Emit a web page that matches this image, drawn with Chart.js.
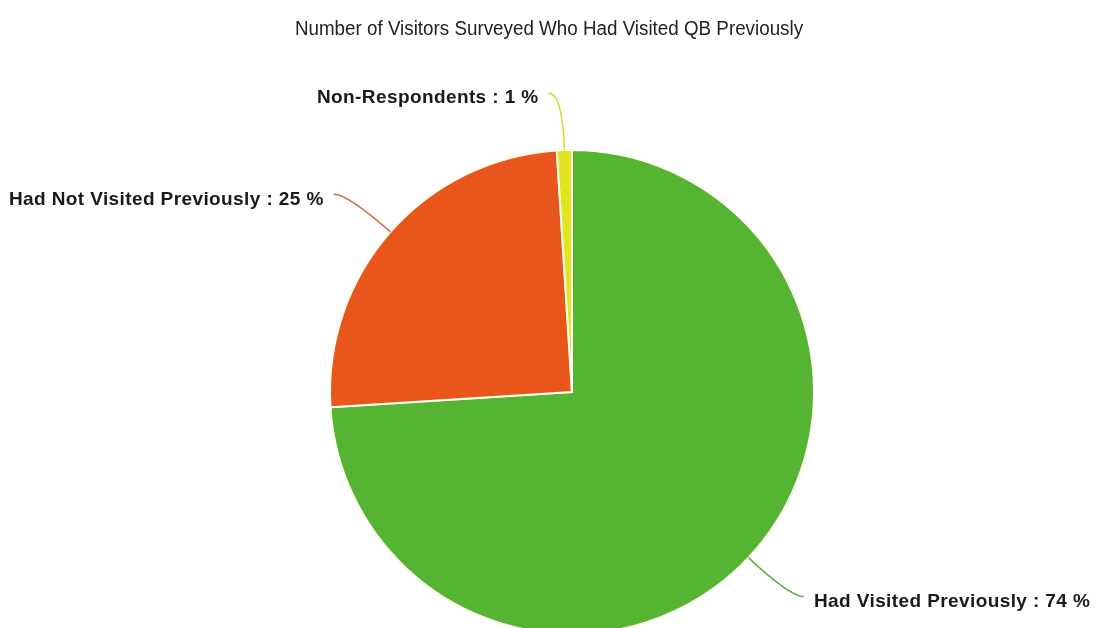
<!DOCTYPE html>
<html>
<head>
<meta charset="utf-8">
<script src="https://cdn.jsdelivr.net/npm/chart.js@4.4.1/dist/chart.umd.min.js"></script>
<style>
  html, body { margin: 0; padding: 0; background: #fff; overflow: hidden; }
  #wrap { width: 1098px; height: 628px; position: relative; }
</style>
</head>
<body>
<div id="wrap"><canvas id="chartPie"></canvas></div>
<script>
const chartTitle = "Number of Visitors Surveyed Who Had Visited QB Previously";
const sliceLabels = ["Had Visited Previously", "Had Not Visited Previously", "Non-Respondents"];
const sliceValues = [74, 25, 1];
const sliceColors = ["#55b432", "#e9561b", "#e2e41e"];
const leaderColors = ["#5fae45", "#d8643a", "#d6d92a"];

// title centred on the whole canvas (the pie itself sits right of centre), slightly condensed
const centerTitle = {
    id: 'centerTitle',
    afterDraw(chart) {
        const ctx = chart.ctx;
        ctx.save();
        ctx.font = '20px "Liberation Sans", Arial, sans-serif';
        ctx.fillStyle = '#222';
        ctx.textAlign = 'center';
        ctx.textBaseline = 'middle';
        ctx.translate(chart.width / 2, 29);
        ctx.scale(0.94, 1);
        ctx.fillText(chartTitle, 0, 0);
        ctx.restore();
    }
};

// curved leader line from each slice edge out to its "label : value %" text
const leaderLabels = {
    id: 'leaderLabels',
    afterDatasetsDraw(chart) {
        const ctx = chart.ctx;
        const meta = chart.getDatasetMeta(0);
        const values = chart.data.datasets[0].data;
        meta.data.forEach((arc, i) => {
            const mid = (arc.startAngle + arc.endAngle) / 2;
            const cos = Math.cos(mid), sin = Math.sin(mid);
            const r = arc.outerRadius;
            const x0 = arc.x + cos * r, y0 = arc.y + sin * r;
            const ex = arc.x + cos * (r + 57), ey = arc.y + sin * (r + 57);
            const side = cos >= 0 ? 1 : -1;
            const x1 = ex + side * 14;

            ctx.save();
            ctx.strokeStyle = leaderColors[i];
            ctx.lineWidth = 1.5;
            ctx.beginPath();
            ctx.moveTo(x0, y0);
            ctx.quadraticCurveTo(ex, ey, x1, ey);
            ctx.stroke();

            ctx.font = 'bold 19px "Liberation Sans", Arial, sans-serif';
            ctx.letterSpacing = '0.4px';
            ctx.fillStyle = '#1a1a1a';
            ctx.textBaseline = 'middle';
            ctx.textAlign = side > 0 ? 'left' : 'right';
            ctx.fillText(chart.data.labels[i] + ' : ' + values[i] + ' %', x1 + side * 10, ey + 5);
            ctx.restore();
        });
    }
};

new Chart(document.getElementById('chartPie'), {
    type: 'pie',
    data: {
        labels: sliceLabels,
        datasets: [{
            data: sliceValues,
            backgroundColor: sliceColors,
            borderColor: '#fffdf0',
            borderWidth: 2
        }]
    },
    options: {
        responsive: true,
        maintainAspectRatio: false,
        animation: false,
        radius: 242,
        layout: {
            padding: { top: 156, left: 46, right: 0, bottom: 0 }
        },
        plugins: {
            legend: { display: false },
            title: { display: false },
            tooltip: { enabled: false }
        }
    },
    plugins: [centerTitle, leaderLabels]
});
</script>
</body>
</html>
